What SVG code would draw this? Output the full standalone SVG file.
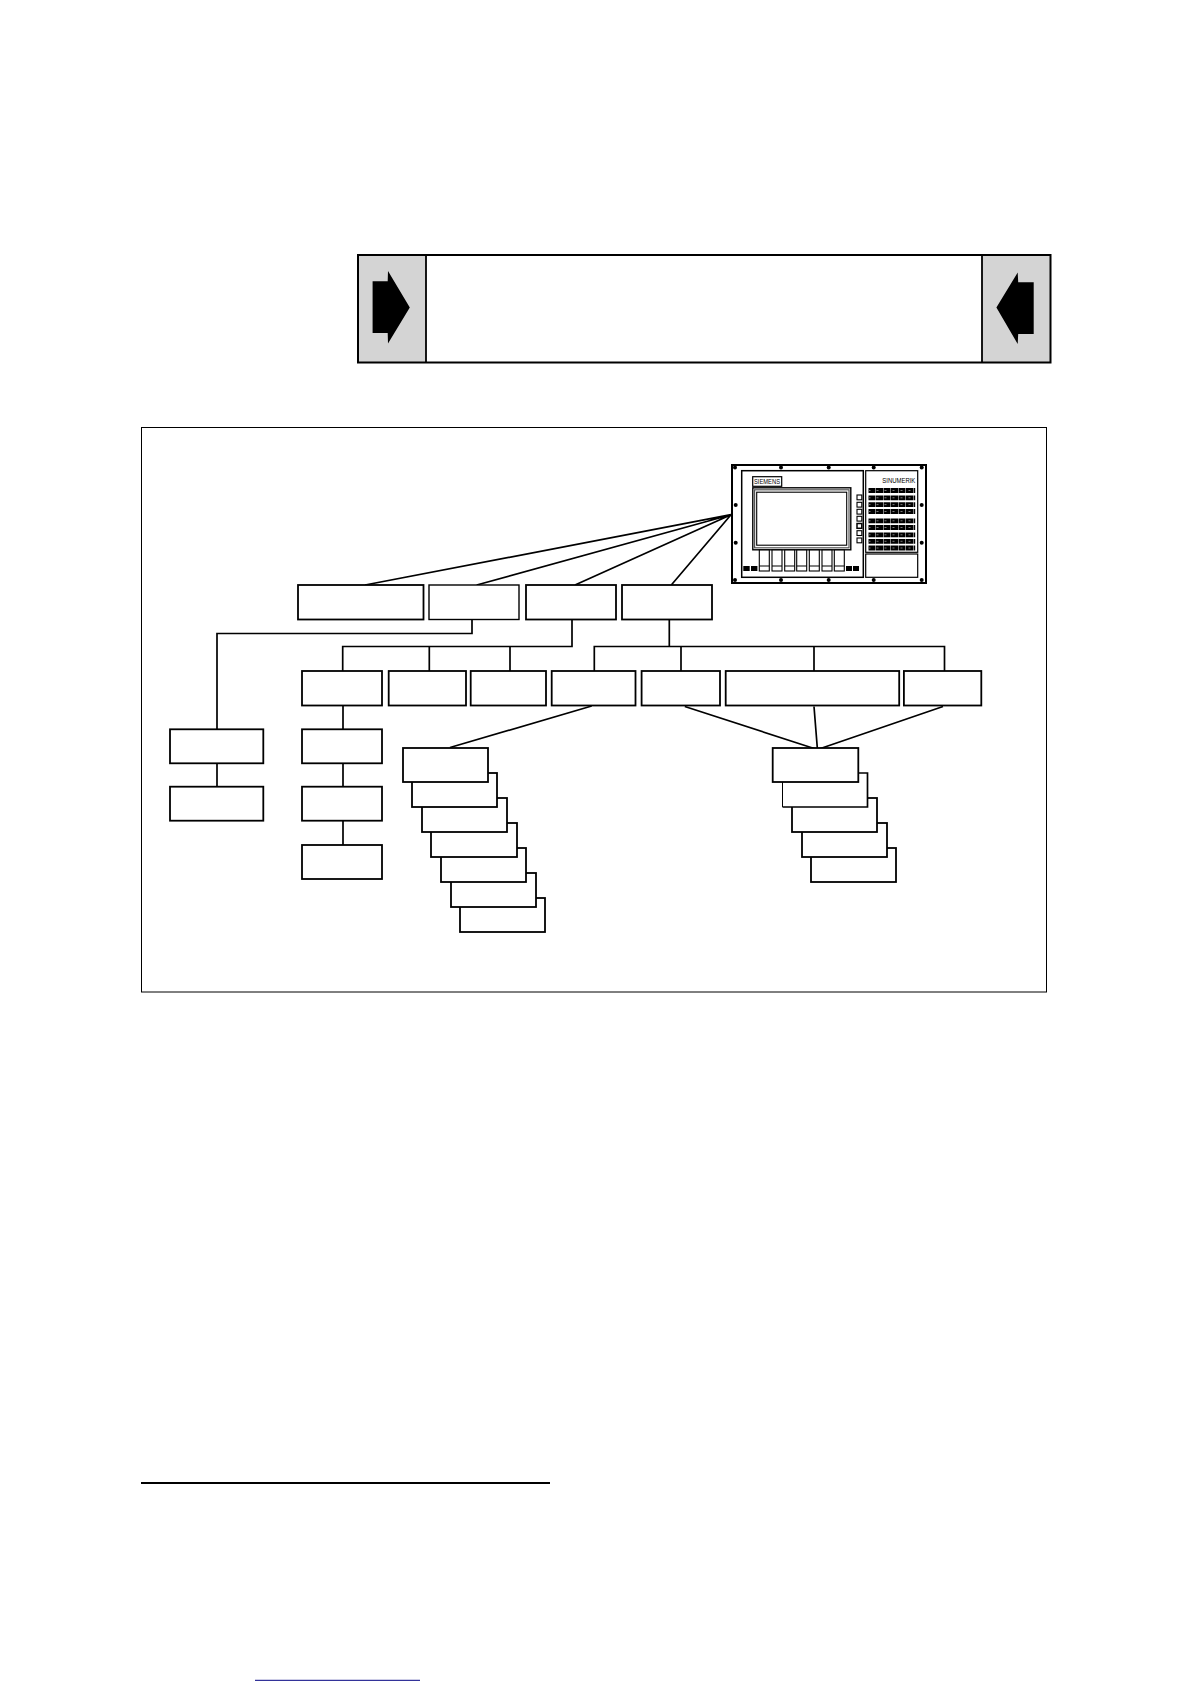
<svg xmlns="http://www.w3.org/2000/svg" width="1190" height="1684" viewBox="0 0 1190 1684">
<style>
.b{fill:#fff;stroke:#000;stroke-width:1.800}
.c{fill:none;stroke:#000;stroke-width:1.700}
.m{fill:#fff;stroke:#000;stroke-width:1.200}
.k{fill:none;stroke:#000;stroke-width:4.800;stroke-dasharray:7 .5}
.kw{fill:none;stroke:#777;stroke-width:1;stroke-dasharray:2 6}
.d{fill:#000}
.t{font-family:"Liberation Sans",Arial,sans-serif;fill:#000}
</style>
<rect width="1190" height="1684" fill="#fff"/>
<g id="banner">
<rect x="358" y="255" width="68" height="107.500" fill="#d4d4d4"/>
<rect x="982" y="255" width="68.500" height="107.500" fill="#d4d4d4"/>
<rect x="358" y="255" width="692.500" height="107.500" fill="none" stroke="#000" stroke-width="2"/>
<path d="M426 255V362.500M982 255V362.500" stroke="#000" stroke-width="1.800" fill="none"/>
<path class="d" d="M372.600 281.200H387.700L388 271L409.800 307.600L388 343.400L387.700 332.900H372.600Z"/>
<path class="d" d="M1033.700 282.200H1018.200L1017.700 272.400L996.400 307.600L1017.700 344L1018.200 333.900H1033.700Z"/>
</g>
<rect id="frame" x="141.500" y="427.500" width="905" height="564.500" fill="#fff" stroke="#000" stroke-width="1"/>
<g id="connectors">
<path class="c" d="M731 514.700L365 585M731 514.700L476.700 585M731 514.700L575 585M731 514.700L671.300 585"/>
<path class="c" d="M472 620V633.500H217V729"/>
<path class="c" d="M572 620V646.500H342.700V671M429.300 646.500V671M510 646.500V671"/>
<path class="c" d="M669.300 620V646.500M594.300 671V646.500H944.500V671M681 646.500V671M814 646.500V671"/>
<path class="c" d="M343 705V729M343 763V787M343 821V845M217 763V787"/>
<path class="c" d="M591.700 706L450 747.500"/>
<path class="c" d="M684.800 706.500L815.700 749M814 706.500L817.400 749M943 706.500L819 749"/>
</g>
<g id="box-a"><rect class="b" x="298" y="585" width="125.500" height="34.500"/></g>
<g id="box-b"><rect class="b" x="429" y="585" width="90" height="34.500" style="stroke-width:1.400"/></g>
<g id="box-c"><rect class="b" x="526" y="585" width="90" height="34.500"/></g>
<g id="box-d"><rect class="b" x="622" y="585" width="90" height="34.500"/></g>
<g id="row-1"><rect class="b" x="302" y="671" width="80" height="34.500"/></g>
<g id="row-2"><rect class="b" x="388.700" y="671" width="77.300" height="34.500"/></g>
<g id="row-3"><rect class="b" x="470.700" y="671" width="75.300" height="34.500"/></g>
<g id="row-4"><rect class="b" x="551.700" y="671" width="83.800" height="34.500"/></g>
<g id="row-5"><rect class="b" x="641.600" y="671" width="78.400" height="34.500"/></g>
<g id="row-6"><rect class="b" x="725.700" y="671" width="173.500" height="34.500"/></g>
<g id="row-7"><rect class="b" x="903.900" y="671" width="77.400" height="34.500"/></g>
<g id="left-1"><rect class="b" x="170" y="729.300" width="93.300" height="34"/></g>
<g id="left-2"><rect class="b" x="170" y="786.700" width="93.300" height="34"/></g>
<g id="col-1"><rect class="b" x="302" y="729.300" width="80" height="34"/></g>
<g id="col-2"><rect class="b" x="302" y="786.700" width="80" height="34"/></g>
<g id="col-3"><rect class="b" x="302" y="845" width="80" height="34"/></g>
<g id="stack-a">
<rect class="b" x="460" y="898" width="85" height="34"/>
<rect class="b" x="451" y="873" width="85" height="34"/>
<rect class="b" x="441" y="848" width="85" height="34"/>
<rect class="b" x="431" y="823" width="86" height="34"/>
<rect class="b" x="422" y="798" width="85" height="34"/>
<rect class="b" x="412" y="773" width="85" height="34"/>
<rect class="b" x="403" y="748" width="85" height="34"/>
</g>
<g id="stack-b">
<rect class="b" x="811" y="848" width="85" height="34"/>
<rect class="b" x="802" y="823" width="85" height="34"/>
<rect class="b" x="792" y="798" width="85" height="34"/>
<rect fill="#fff" x="782.500" y="773" width="85" height="34"/>
<path class="c" d="M858 773H867.500V807H782.500"/>
<path d="M782.500 782V807" stroke="#000" stroke-width="1" fill="none"/>
<rect class="b" x="772.700" y="748" width="85.600" height="34"/>
</g>
<g id="monitor">
<rect x="732" y="465" width="194" height="118" fill="#fff" stroke="#000" stroke-width="2"/>
<rect class="m" x="741.700" y="470.700" width="121.600" height="106.600" style="stroke-width:1.500"/>
<rect class="m" x="865.700" y="470.700" width="52" height="81.600"/>
<rect class="m" x="865.700" y="554" width="52" height="23.300"/>
<rect class="m" x="752.700" y="476.700" width="29" height="9.600"/>
<text class="t" x="754" y="484.300" font-size="7" textLength="26" lengthAdjust="spacingAndGlyphs">SIEMENS</text>
<text class="t" x="882.300" y="483" font-size="7" textLength="33" lengthAdjust="spacingAndGlyphs">SINUMERIK</text>
<rect x="752.800" y="487.800" width="98" height="62" fill="#fff" stroke="#000" stroke-width="1.400"/>
<rect x="754.600" y="489.800" width="94.400" height="58" fill="#fff" stroke="#555" stroke-width="1.200"/>
<rect x="756.700" y="492.200" width="90" height="53" fill="#fff" stroke="#000" stroke-width="1.100"/>
<g id="softkeys" fill="#fff" stroke="#000" stroke-width="1.100">
<rect x="759.300" y="550" width="10" height="21"/><rect x="772" y="550" width="10" height="21"/><rect x="784.700" y="550" width="10" height="21"/><rect x="796.700" y="550" width="10" height="21"/><rect x="809.300" y="550" width="10" height="21"/><rect x="822" y="550" width="10" height="21"/><rect x="834.300" y="550" width="10" height="21"/>
<path d="M759.300 566h10M772 566h10M784.700 566h10M796.700 566h10M809.300 566h10M822 566h10M834.300 566h10"/>
</g>
<g id="side-keys" fill="#fff" stroke="#000" stroke-width="1.100">
<rect x="857" y="495" width="4.800" height="4.800"/><rect x="857" y="502.300" width="4.800" height="4.800"/><rect x="857" y="509.300" width="4.800" height="4.800"/><rect x="857" y="516.300" width="4.800" height="4.800"/><rect x="857" y="523.500" width="4.800" height="4.800" stroke-width="1.500"/><rect x="857" y="530.700" width="4.800" height="4.800"/><rect x="857" y="538" width="4.800" height="4.800"/>
</g>
<g id="small-keys" class="d">
<rect x="743.300" y="566" width="6.400" height="5"/><rect x="751" y="566" width="6.400" height="5"/><rect x="846" y="566" width="6" height="5"/><rect x="853" y="566" width="6" height="5"/>
</g>
<g id="keys">
<path class="k" d="M868.500 490.500h46.700M868.500 497.800h46.700M868.500 504.600h46.700M868.500 511.500h46.700M868.500 520.800h46.700M868.500 527.500h46.700M868.500 534.800h46.700M868.500 541.300h46.700M868.500 548h46.700"/>
<path class="kw" d="M868.500 490.500h46.700M868.500 497.800h46.700M868.500 504.600h46.700M868.500 511.500h46.700M868.500 520.800h46.700M868.500 527.500h46.700M868.500 534.800h46.700M868.500 541.300h46.700M868.500 548h46.700"/>
</g>
<g id="bolts" class="d">
<circle cx="735" cy="467.500" r="2"/><circle cx="781" cy="467.500" r="2"/><circle cx="828.700" cy="467.500" r="2"/><circle cx="873.700" cy="467.500" r="2"/><circle cx="921.700" cy="467.500" r="2"/>
<circle cx="735" cy="580" r="2"/><circle cx="781" cy="580" r="2"/><circle cx="828.700" cy="580" r="2"/><circle cx="873.700" cy="580" r="2"/><circle cx="921.700" cy="580" r="2"/>
<circle cx="735.700" cy="505" r="2"/><circle cx="735.700" cy="542.700" r="2"/><circle cx="921.700" cy="505" r="2"/><circle cx="921.700" cy="542.700" r="2"/>
</g>
</g>
<g id="rules">
<path d="M141 1483H550" stroke="#000" stroke-width="2" fill="none"/>
<path d="M255 1680.300H420" stroke="#000080" stroke-width="1" fill="none"/>
</g>
</svg>
